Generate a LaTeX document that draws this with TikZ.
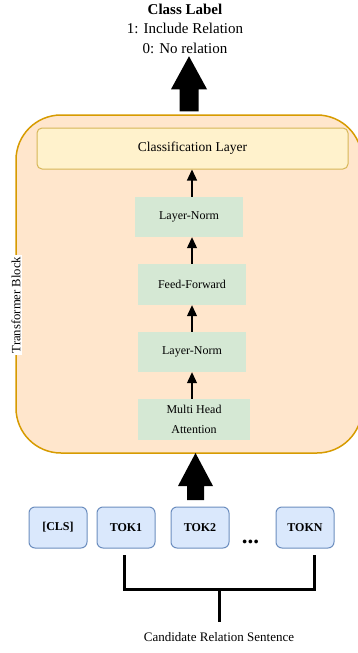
\documentclass[tikz,border=0pt]{standalone}
\usepackage{fontspec}
\setmainfont{Liberation Serif}
\usetikzlibrary{arrows.meta}
\definecolor{blockfill}{HTML}{FFE6CC}
\definecolor{blockdraw}{HTML}{D79B00}
\definecolor{clsfill}{HTML}{FFF2CC}
\definecolor{clsdraw}{HTML}{D6B656}
\definecolor{layerfill}{HTML}{D5E8D4}
\definecolor{tokfill}{HTML}{DAE8FC}
\definecolor{tokdraw}{HTML}{6C8EBF}
\begin{document}
\begin{tikzpicture}[x=1pt,y=-1pt,
  layerbox/.style={fill=layerfill, inner sep=0pt, minimum height=41pt,
    font=\fontsize{12}{20}\selectfont, align=center},
  tokbox/.style={draw=tokdraw, fill=tokfill, rounded corners=6pt, line width=1pt,
    minimum width=58pt, minimum height=41pt, inner sep=0pt,
    font=\bfseries\fontsize{12}{14}\selectfont},
  flow/.style={-{Triangle[width=10pt,length=11pt]}, line width=1.2pt},
  toptext/.style={inner sep=0pt, font=\fontsize{15}{18}\selectfont},
  bracket/.style={line width=3pt, line join=miter}]
\clip (0,0) rectangle (358,653);
\fill[white] (0,0) rectangle (358,653);

% output label
\node[toptext, font=\bfseries\fontsize{15}{18}\selectfont] (title) at (185,9) {Class Label};
\node[toptext] (lab1) at (185,28) {1: Include Relation};
\node[toptext] (lab0) at (185,48) {0: No relation};

% transformer block container
\node[draw=blockdraw, fill=blockfill, line width=1.5pt, rounded corners=45pt,
      minimum width=346pt, minimum height=338pt, inner sep=0pt] (block) at (189,284) {};
\node[fill=white, rotate=90, inner sep=1.5pt, font=\fontsize{12.7}{14}\selectfont]
      (blocklabel) at (16,305) {Transformer Block};

% layers inside the block
\node[draw=clsdraw, fill=clsfill, line width=1pt, rounded corners=5pt,
      minimum width=311pt, minimum height=41pt, inner sep=0pt,
      font=\fontsize{13.5}{15}\selectfont] (cls) at (192.5,148.5) {Classification Layer};
\node[layerbox, minimum width=108pt, minimum height=40pt] (ln2) at (189,217) {Layer-Norm};
\node[layerbox, minimum width=108pt] (ff) at (192,284.5) {Feed-Forward};
\node[layerbox, minimum width=108pt, minimum height=40pt] (ln1) at (192,352) {Layer-Norm};
\node[layerbox, minimum width=112pt] (mha) at (194,419.5) {Multi Head\\Attention};

\draw[flow] (mha.north -| ln1.south) -- (ln1.south);
\draw[flow] (ln1.north) -- (ff.south);
\draw[flow] (ff.north) -- (ln2.south -| ff.north);
\draw[flow] (ln2.north -| ff.north) -- (cls.south -| ff.north);

% big output arrow
\fill ([yshift=3pt]block.north) ++(-9.5,0) -- ++(0,-22) -- ++(-8.5,0)
      -- ++(18,-33) -- ++(18,33) -- ++(-8.5,0) -- ++(0,22) -- cycle;

% input tokens
\node[tokbox] (tcls) at (58,527.5) {[CLS]};
\node[tokbox] (tok1) at (126,527.5) {TOK1};
\node[tokbox] (tok2) at (200,527.5) {TOK2};
\node[tokbox] (tokn) at (305,527.5) {TOKN};
\node[anchor=base, inner sep=0pt, font=\bfseries\fontsize{23}{24}\selectfont]
      (dots) at (250.5,543.5) {...};

% big input arrow
\coordinate (intip) at (195.5,453);
\fill (intip) -- ++(17.5,33) -- ++(-9,0) -- ++(0,14) -- ++(-17,0) -- ++(0,-14)
      -- ++(-9,0) -- cycle;

% bracket gathering the sentence tokens
\coordinate (bl) at (124,555);
\coordinate (br) at (314,555);
\coordinate (brk) at (219,589);
\coordinate (stem) at (219,622);
\draw[bracket] (bl) |- (brk) -| (br);
\draw[bracket] (brk) -- (stem);
\node[inner sep=0pt, font=\fontsize{13}{15}\selectfont] (sent) at (219,637)
      {Candidate Relation Sentence};
\end{tikzpicture}
\end{document}
